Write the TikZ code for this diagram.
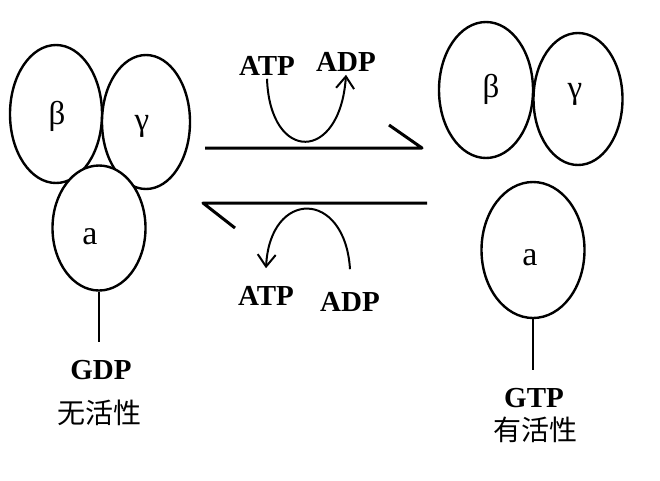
\documentclass[tikz,border=0pt]{standalone}
\usepackage{fontspec}
\setmainfont{Liberation Serif}
\newfontfamily\cjk{Noto Sans CJK SC}
\usetikzlibrary{shapes.geometric,arrows.meta}
\begin{document}
\begin{tikzpicture}[x=1pt,y=-1pt,
  sub/.style={ellipse,draw,line width=2.4pt,fill=white,inner sep=0pt},
  mol/.style={font=\fontsize{29}{32}\selectfont\bfseries,inner sep=3pt},
  greek/.style={font=\fontsize{33}{36}\selectfont,inner sep=0pt},
  zh/.style={font=\fontsize{28}{30}\selectfont\cjk,inner sep=0pt},
  bent/.style={line width=2pt,-{Straight Barb[length=12pt,width=18pt]}}]
\useasboundingbox (0,0) rectangle (660,480);
\node[sub,minimum width=92pt,minimum height=138pt] (lb) at (56,114) {};
\node[sub,minimum width=88pt,minimum height=134pt] (lg) at (146,122) {};
\node[sub,minimum width=93pt,minimum height=125pt] (la) at (99,228) {};
\node[greek] (lbt) at (57,116) {β};
\node[greek] (lgt) at (142,126) {γ};
\node[greek,font=\fontsize{34}{36}\selectfont] (lat) at (90,237) {a};
\node[mol] (gdp) at (101,370) {GDP};
\node[zh] (off) at (99,413) {无活性};
\draw[line width=2pt] (la.south) -- ([yshift=15pt]gdp.north -| la.south);
\node[sub,minimum width=94pt,minimum height=136pt] (rb) at (486,90) {};
\node[sub,minimum width=89pt,minimum height=132pt] (rg) at (578,99) {};
\node[sub,minimum width=103pt,minimum height=136pt] (ra) at (533,250) {};
\node[greek] (rbt) at (491,89) {β};
\node[greek] (rgt) at (575,94) {γ};
\node[greek,font=\fontsize{34}{36}\selectfont] (rat) at (530,258) {a};
\node[mol] (gtp) at (534,398) {GTP};
\node[zh] (on) at (535,430) {有活性};
\draw[line width=2pt] (ra.south) -- ([yshift=15pt]gtp.north -| ra.south);
\coordinate (fw1) at (205,148);
\coordinate (fw2) at (422,148);
\coordinate (fw3) at (389,125);
\coordinate (bw1) at (427,203);
\coordinate (bw2) at (203,203);
\coordinate (bw3) at (235,228);
\draw[line width=3pt,line join=round] (fw1) -- (fw2) -- (fw3);
\draw[line width=3pt,line join=round] (bw1) -- (bw2) -- (bw3);
\node[mol] (atpu) at (267,66) {ATP};
\node[mol] (adpu) at (346,62) {ADP};
\node[mol] (atpl) at (266,296) {ATP};
\node[mol] (adpl) at (350,302) {ADP};
\draw[bent] (atpu.south) .. controls (270,163) and (340,163) .. (adpu.south);
\draw[bent] ([yshift=20pt]adpl.north) .. controls (345,189) and (270,189) .. ([yshift=15pt]atpl.north);
\end{tikzpicture}
\end{document}
